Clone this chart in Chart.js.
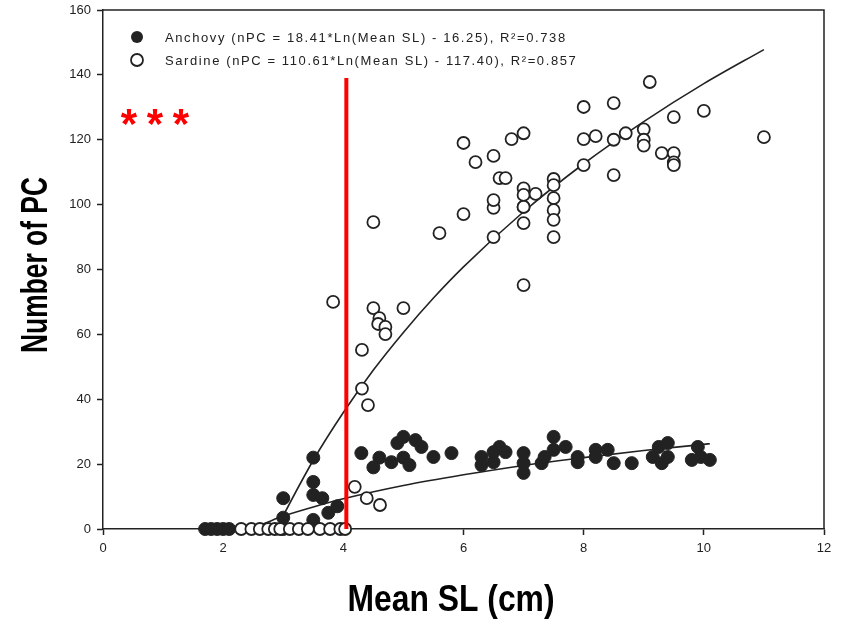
<!DOCTYPE html>
<html>
<head>
<meta charset="utf-8">
<script src="https://cdn.jsdelivr.net/npm/chart.js@4"></script>
<style>
  html, body { margin: 0; padding: 0; background: #fff; }
  #wrap { width: 847px; height: 619px; }
</style>
</head>
<body>
<div id="wrap"><canvas id="grafico"></canvas></div>
<script>
// Anchovy (filled circles)
const anchovyX = [1.7, 1.8, 1.9, 2.0, 2.1,
  3.0, 3.0, 3.5, 3.5, 3.5, 3.65, 3.75, 3.9, 3.0, 3.5,
  4.3, 4.5, 4.6, 4.8, 4.9, 5.0, 5.0, 5.1, 5.2, 5.3, 5.5, 5.8,
  6.3, 6.3, 6.5, 6.6, 6.7, 6.5, 7.0, 7.0, 7.0, 7.3, 7.35, 7.5, 7.5, 7.7,
  7.9, 7.9, 8.2, 8.2, 8.4, 8.5, 8.8, 9.15, 9.25, 9.4, 9.3, 9.4, 9.9, 9.8, 9.95, 10.1];
const anchovyY = [0, 0, 0, 0, 0,
  9.5, 3.5, 22, 14.5, 10.5, 9.5, 5, 7, 0, 2.8,
  23.4, 19, 22, 20.6, 26.5, 28.4, 22, 19.7, 27.4, 25.3, 22.2, 23.4,
  22.2, 19.7, 23.7, 25.3, 23.7, 20.6, 23.4, 20.3, 17.3, 20.3, 22.2, 28.4, 24.4, 25.3,
  22.2, 20.6, 24.4, 22.2, 24.4, 20.3, 20.3, 22.2, 25.3, 26.5, 20.3, 22.2, 25.3, 21.3, 22.2, 21.3];

// Sardine (open circles)
const sardineX = [2.3, 2.47, 2.61, 2.75, 2.86, 2.95, 3.11, 3.26, 3.41, 3.61, 3.78, 3.95, 4.03,
  4.19, 4.39, 4.61, 4.31, 4.41, 4.31, 3.83, 4.5, 5.0, 4.6, 4.58, 4.7, 4.7,
  4.5, 5.6, 6.0, 6.5, 6.5, 6.5, 6.2, 6.0, 6.6, 6.7, 6.8, 7.0, 7.0, 7.0, 7.0, 7.0, 7.0, 7.2,
  7.5, 7.5, 7.5, 7.5, 7.5, 7.5, 8.0, 8.0, 8.0, 8.2, 8.5, 8.5, 8.5, 8.7,
  9.0, 9.0, 9.0, 9.1, 9.3, 9.5, 9.5, 9.5, 9.5, 10.0, 11.0, 7.0, 6.5];
const sardineY = [0, 0, 0, 0, 0, 0, 0, 0, 0, 0, 0, 0, 0,
  13, 9.5, 7.4, 43.3, 38.2, 55.2, 70, 68.1, 68.1, 65, 63.2, 62.3, 60.1,
  94.6, 91.2, 97.1, 90, 99, 101.4, 113.1, 119, 108.2, 108.2, 120.2, 122, 105, 103, 99.3, 94.3, 75.2, 103.3,
  107.9, 106, 102, 98.3, 95.3, 90, 130.1, 120.2, 112.2, 121.1, 131.3, 120, 109.1, 122,
  123.2, 120, 118.2, 137.8, 115.9, 127, 115.9, 113, 112.2, 128.9, 120.8, 99.3, 115];

// fitted curves
const sardineFitX = [2.9, 3.0, 3.5, 4.0, 4.5, 5.0, 5.5, 6.0, 7.0, 8.0, 9.0, 10.0, 11.0];
const sardineFitY = [0.4, 4.1, 21.2, 35.9, 49.0, 60.6, 71.2, 80.8, 97.8, 112.6, 125.6, 137.3, 147.8];
const anchovyFitX = [2.33, 2.5, 3.0, 3.5, 4.0, 5.0, 6.0, 7.0, 8.0, 9.0, 10.0, 10.1];
const anchovyFitY = [0.3, 0.6, 4.0, 6.8, 9.3, 13.4, 16.7, 19.6, 22.0, 24.2, 26.1, 26.3];

// red threshold line
const cutX = [4.05, 4.05];
const cutY = [0, 139];

const legendTexts = [
  'Anchovy (nPC = 18.41*Ln(Mean SL) - 16.25), R\u00B2=0.738',
  'Sardine (nPC = 110.61*Ln(Mean SL) - 117.40), R\u00B2=0.857'
];
const xTitle = 'Mean SL (cm)';
const yTitle = 'Number of PC';

function pts(xs, ys) { return xs.map((x, i) => ({ x: x, y: ys[i] })); }

// condensed bold text, squeezed to a target width
function narrowText(ctx, text, cx, cy, width, rot) {
  ctx.save();
  ctx.font = 'bold 36px "Liberation Sans", Arial, sans-serif';
  const w = ctx.measureText(text).width;
  ctx.translate(cx, cy);
  ctx.rotate(rot);
  ctx.scale(width / w, 1);
  ctx.fillStyle = '#000';
  ctx.textAlign = 'center';
  ctx.textBaseline = 'alphabetic';
  ctx.fillText(text, 0, 0);
  ctx.restore();
}

const extras = {
  id: 'extras',
  afterDraw(chart) {
    const ctx = chart.ctx, a = chart.chartArea;
    ctx.save();
    // frame box
    ctx.strokeStyle = '#222';
    ctx.lineWidth = 1.5;
    ctx.beginPath();
    ctx.moveTo(a.left, a.top); ctx.lineTo(a.right, a.top); ctx.lineTo(a.right, a.bottom);
    ctx.stroke();
    // legend
    ctx.font = '13px "Liberation Sans", Arial, sans-serif';
    ctx.letterSpacing = '1.6px';
    ctx.textBaseline = 'middle';
    ctx.fillStyle = '#222';
    const rows = [37, 60];
    rows.forEach((y, i) => {
      ctx.beginPath();
      ctx.arc(137, y, 6, 0, Math.PI * 2);
      if (i === 0) { ctx.fillStyle = '#222'; ctx.fill(); }
      else { ctx.fillStyle = '#fff'; ctx.fill(); ctx.lineWidth = 1.8; ctx.strokeStyle = '#222'; ctx.stroke(); }
      ctx.fillStyle = '#222';
      ctx.fillText(legendTexts[i], 165, y + 1);
    });
    ctx.letterSpacing = '0px';
    // asterisks
    ctx.fillStyle = '#ff0000';
    ctx.font = 'bold 42px "Liberation Sans", Arial, sans-serif';
    ctx.textAlign = 'center';
    ctx.textBaseline = 'alphabetic';
    [129, 155, 181].forEach(x => ctx.fillText('*', x, 138));
    ctx.restore();
    // axis titles
    narrowText(ctx, xTitle, 451, 611, 207, 0);
    narrowText(ctx, yTitle, 47, 265, 176, -Math.PI / 2);
  }
};

function trimPad(s) { s.paddingTop = 0; s.paddingBottom = 0; s.paddingLeft = 0; s.paddingRight = 0; }

new Chart(document.getElementById('grafico'), {
  type: 'scatter',
  data: {
    datasets: [
      {
        label: 'Anchovy fit',
        data: pts(anchovyFitX, anchovyFitY),
        showLine: true, pointRadius: 0, borderColor: '#222', borderWidth: 1.6,
        cubicInterpolationMode: 'monotone', order: 3
      },
      {
        label: 'Sardine fit',
        data: pts(sardineFitX, sardineFitY),
        showLine: true, pointRadius: 0, borderColor: '#222', borderWidth: 1.6,
        cubicInterpolationMode: 'monotone', order: 3
      },
      {
        label: 'Anchovy',
        data: pts(anchovyX, anchovyY),
        pointRadius: 6.5, pointBackgroundColor: '#222', pointBorderColor: '#222',
        pointBorderWidth: 1, clip: false, order: 2
      },
      {
        label: 'Sardine',
        data: pts(sardineX, sardineY),
        pointRadius: 6, pointBackgroundColor: '#fff', pointBorderColor: '#222',
        pointBorderWidth: 1.8, clip: false, order: 1
      },
      {
        label: 'cut',
        data: pts(cutX, cutY),
        showLine: true, pointRadius: 0, borderColor: '#ff0000', borderWidth: 4, order: 0
      }
    ]
  },
  options: {
    responsive: true,
    maintainAspectRatio: false,
    animation: false,
    layout: { padding: { top: 10, right: 23, left: 0, bottom: 0 } },
    plugins: { legend: { display: false }, tooltip: { enabled: false } },
    scales: {
      x: {
        type: 'linear', min: 0, max: 12,
        ticks: { stepSize: 2, color: '#222', padding: 6, font: { family: '"Liberation Sans", Arial', size: 13 } },
        grid: { display: true, drawOnChartArea: false, tickLength: 6, color: '#222', tickWidth: 1.5 },
        border: { color: '#222', width: 1.5 },
        afterFit: s => { s.height = 90; trimPad(s); }
      },
      y: {
        type: 'linear', min: 0, max: 160,
        ticks: { stepSize: 20, color: '#222', padding: 6, font: { family: '"Liberation Sans", Arial', size: 13 } },
        grid: { display: true, drawOnChartArea: false, tickLength: 6, color: '#222', tickWidth: 1.5 },
        border: { color: '#222', width: 1.5 },
        afterFit: s => { s.width = 103; trimPad(s); }
      }
    }
  },
  plugins: [extras]
});
</script>
</body>
</html>
